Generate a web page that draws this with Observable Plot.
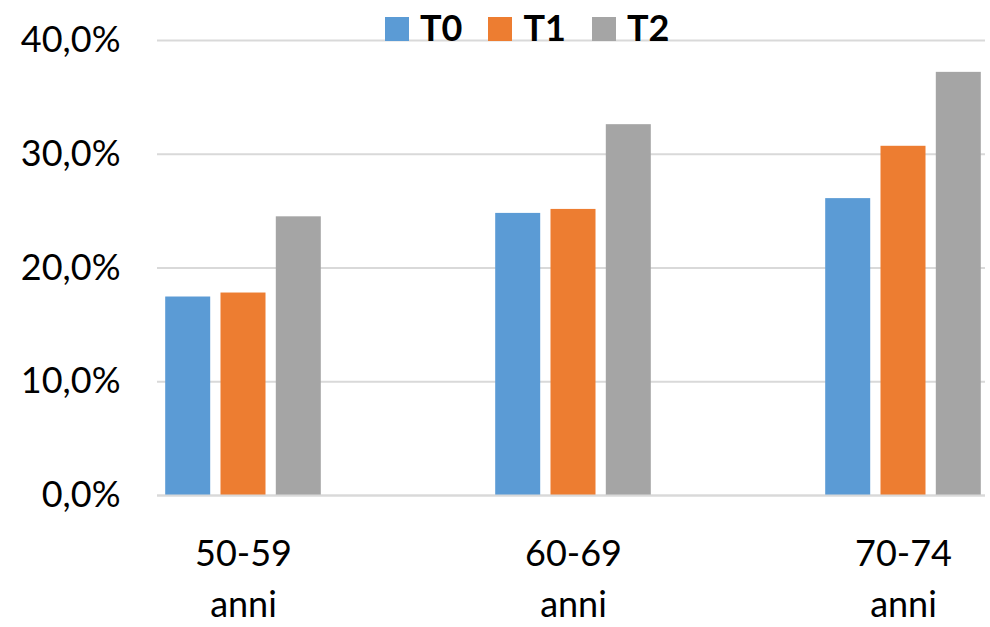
<!DOCTYPE html>
<html><head><meta charset="utf-8">
<script src="https://cdn.jsdelivr.net/npm/d3@7"></script>
<script src="https://cdn.jsdelivr.net/npm/@observablehq/plot@0.6"></script>
<style>
body{margin:0;background:#fff;font-family:Lato,sans-serif}
#wrap{position:relative;width:990px;height:627px}
#legend{position:absolute;top:9px;left:385px;display:flex;align-items:center;font-weight:bold;font-size:36px;line-height:36px;color:#000}
#legend .item{display:flex;align-items:center;margin-right:26px}
#legend .sw{width:24px;height:24px;margin-right:11px;margin-top:4px}
</style></head><body><div id="wrap"><div id="legend"></div></div>
<script>
const groups = ["50-59\nanni", "60-69\nanni", "70-74\nanni"];
const series = ["T0", "T1", "T2"];
const colors = ["#5B9BD5", "#ED7D31", "#A5A5A5"];
const T0 = [17.45, 24.8, 26.1];
const T1 = [17.8, 25.15, 30.7];
const T2 = [24.5, 32.6, 37.2];
const yTicks = [0, 10, 20, 30, 40];

const values = [T0, T1, T2];
const data = groups.flatMap((g, i) => series.map((s, j) => ({group: g, series: s, value: values[j][i]})));
const fmt = d => d.toFixed(1).replace(".", ",") + "%";

const bars = series.map((s, j) => Plot.barY(data.filter(d => d.series === s), {
  x: "group", y: "value", fill: colors[j], dx: (j - 1) * 55.3, insetLeft: 142.5, insetRight: 142.5
}));

const chart = Plot.plot({
  width: 990, height: 627,
  marginLeft: 157, marginRight: 5, marginTop: 40, marginBottom: 132,
  style: {fontFamily: "Lato, sans-serif", color: "#000", background: "#fff"},
  x: {domain: groups, range: [78, 1068], padding: 0},
  y: {domain: [0, 40]},
  marks: [
    Plot.gridY(yTicks, {stroke: "#d9d9d9", strokeWidth: 2, strokeOpacity: 1}),
    ...bars,
    Plot.ruleY([0], {stroke: "#d9d9d9", strokeWidth: 2}),
    Plot.axisY(yTicks, {tickSize: 0, tickPadding: 37, fontSize: 36, tickFormat: fmt, label: null}),
    Plot.axisX({tickSize: 0, tickPadding: 34, fontSize: 36, lineHeight: 1.42, label: null})
  ]
});
const wrap = document.getElementById("wrap");
wrap.appendChild(chart);
chart.style.position = "absolute"; chart.style.left = "0"; chart.style.top = "0";
const leg = d3.select("#legend");
series.forEach((s, j) => {
  const it = leg.append("div").attr("class", "item");
  it.append("div").attr("class", "sw").style("background", colors[j]);
  it.append("span").text(s);
});
document.getElementById("legend").style.zIndex = 2;
</script></body></html>
